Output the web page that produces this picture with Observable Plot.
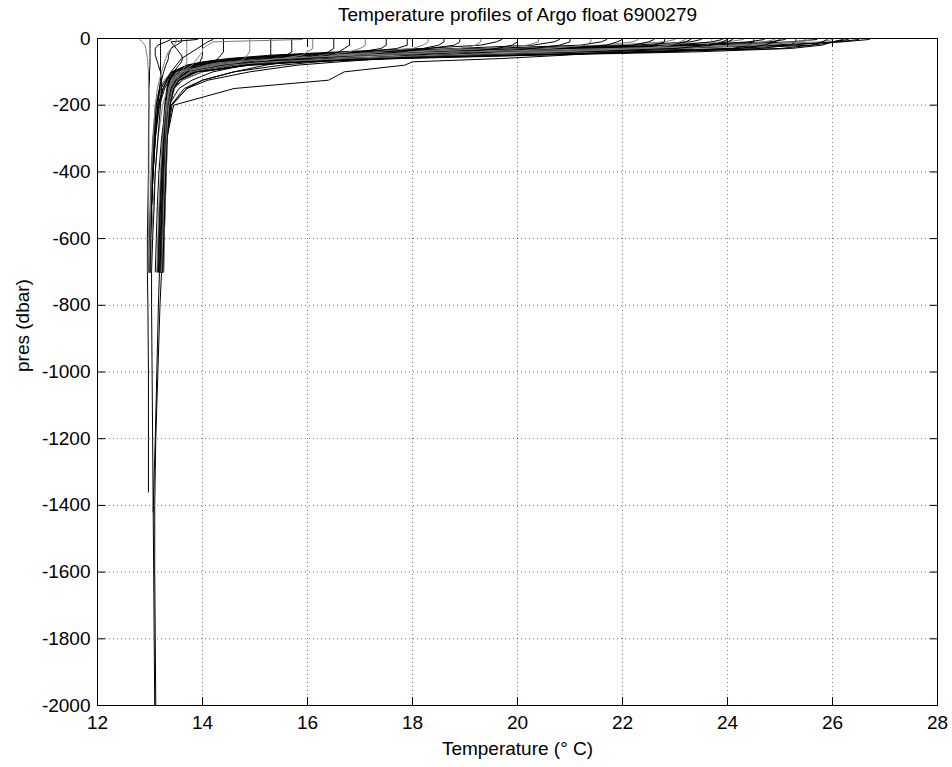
<!DOCTYPE html>
<html><head><meta charset="utf-8">
<script src="https://cdn.jsdelivr.net/npm/d3@7"></script>
<script src="https://cdn.jsdelivr.net/npm/@observablehq/plot@0.6"></script>
<style>body{margin:0;background:#fff;} svg{display:block;}</style>
</head><body><div id="chart"></div>
<script>
// Pressure levels (dbar) shared by the upper part of each profile
const levels = [3, 10, 20, 30, 40, 50, 60, 70, 80, 100, 125, 150, 200, 300, 400, 500, 600, 700];

// Temperature (deg C) of each profile at the levels above
const upperTemps = [
  [26.7, 26.2, 24.8, 22.0, 19.2, 17.0, 15.6, 14.7, 14.2, 13.65, 13.48, 13.42, 13.36, 13.31, 13.29, 13.27, 13.25, 13.23],
  [26.3, 26.0, 25.2, 22.8, 19.8, 17.4, 15.8, 14.9, 14.3, 13.7, 13.5, 13.43, 13.37, 13.3, 13.26, 13.23, 13.2, 13.18],
  [26.0, 25.8, 24.0, 20.9, 18.2, 16.3, 15.1, 14.4, 13.95, 13.56, 13.44, 13.38, 13.33, 13.28, 13.25, 13.22, 13.2, 13.18],
  [25.9, 25.8, 25.6, 25.0, 22.6, 19.4, 17.0, 15.5, 14.6, 13.8, 13.53, 13.45, 13.38, 13.33, 13.31, 13.29, 13.27, 13.26],
  [25.7, 25.2, 23.6, 20.5, 17.9, 16.1, 15.0, 14.3, 13.9, 13.5, 13.36, 13.28, 13.18, 13.1, 13.06, 13.03, 13.01, 13.0],
  [25.5, 25.3, 24.7, 22.6, 19.6, 17.3, 15.8, 14.9, 14.3, 13.7, 13.5, 13.42, 13.36, 13.3, 13.27, 13.24, 13.22, 13.2],
  [25.3, 25.3, 25.2, 24.6, 22.0, 19.0, 16.8, 15.4, 14.6, 13.82, 13.55, 13.46, 13.38, 13.32, 13.3, 13.28, 13.26, 13.25],
  [25.1, 24.8, 23.0, 19.8, 17.4, 15.8, 14.8, 14.2, 13.85, 13.52, 13.42, 13.37, 13.32, 13.27, 13.23, 13.2, 13.17, 13.15],
  [24.9, 24.7, 24.2, 22.2, 19.4, 17.2, 15.7, 14.8, 14.25, 13.68, 13.49, 13.41, 13.35, 13.3, 13.27, 13.25, 13.23, 13.21],
  [24.7, 24.4, 23.4, 21.0, 18.4, 16.5, 15.2, 14.5, 14.05, 13.6, 13.45, 13.38, 13.3, 13.22, 13.17, 13.14, 13.12, 13.1],
  [24.5, 24.5, 24.4, 24.1, 22.6, 19.8, 17.4, 15.8, 14.8, 13.85, 13.52, 13.44, 13.37, 13.32, 13.3, 13.28, 13.26, 13.24],
  [24.3, 24.0, 22.4, 19.6, 17.3, 15.7, 14.7, 14.1, 13.75, 13.42, 13.3, 13.22, 13.14, 13.08, 13.05, 13.02, 13.0, 12.99],
  [24.1, 24.0, 23.6, 21.8, 19.2, 17.0, 15.6, 14.7, 14.2, 13.65, 13.47, 13.4, 13.34, 13.29, 13.26, 13.24, 13.22, 13.2],
  [23.9, 23.7, 23.0, 20.8, 18.3, 16.4, 15.2, 14.5, 14.0, 13.57, 13.43, 13.37, 13.32, 13.28, 13.25, 13.22, 13.19, 13.17],
  [23.7, 23.7, 23.6, 23.3, 21.6, 18.8, 16.8, 15.4, 14.6, 13.8, 13.54, 13.45, 13.37, 13.33, 13.31, 13.29, 13.27, 13.26],
  [23.5, 23.3, 22.2, 19.6, 17.2, 15.6, 14.7, 14.1, 13.78, 13.46, 13.37, 13.33, 13.29, 13.25, 13.22, 13.19, 13.16, 13.14],
  [23.3, 23.2, 22.9, 21.4, 19.0, 16.9, 15.5, 14.7, 14.2, 13.64, 13.46, 13.39, 13.33, 13.29, 13.27, 13.25, 13.23, 13.21],
  [23.0, 22.8, 21.8, 19.4, 17.2, 15.7, 14.8, 14.2, 13.8, 13.42, 13.27, 13.18, 13.1, 13.05, 13.02, 13.0, 12.99, 12.98],
  [22.8, 22.8, 22.6, 22.3, 21.9, 20.9, 19.7, 18.0, 17.85, 16.7, 16.4, 14.6, 13.45, 13.32, 13.29, 13.27, 13.25, 13.23],
  [22.6, 22.5, 22.2, 20.6, 18.2, 16.3, 15.1, 14.4, 13.95, 13.55, 13.43, 13.37, 13.32, 13.28, 13.26, 13.24, 13.22, 13.2],
  [22.3, 22.2, 21.6, 19.6, 17.5, 15.9, 14.9, 14.3, 13.9, 13.5, 13.4, 13.35, 13.3, 13.26, 13.23, 13.2, 13.18, 13.16],
  [22.0, 21.9, 21.7, 20.8, 18.8, 16.8, 15.4, 14.6, 14.1, 13.6, 13.45, 13.39, 13.34, 13.3, 13.28, 13.26, 13.24, 13.22],
  [21.7, 21.6, 21.2, 19.4, 17.3, 15.8, 14.8, 14.2, 13.8, 13.45, 13.33, 13.25, 13.16, 13.09, 13.05, 13.03, 13.01, 13.0],
  [21.4, 21.4, 21.3, 20.6, 18.8, 16.9, 15.5, 14.7, 14.15, 13.62, 13.46, 13.4, 13.34, 13.3, 13.28, 13.26, 13.24, 13.23],
  [21.0, 21.0, 20.8, 20.3, 19.5, 18.6, 17.5, 16.6, 15.8, 14.9, 14.1, 13.7, 13.4, 13.3, 13.28, 13.26, 13.24, 13.22],
  [20.8, 20.7, 20.3, 18.8, 16.9, 15.5, 14.6, 14.05, 13.72, 13.44, 13.36, 13.32, 13.28, 13.24, 13.21, 13.18, 13.16, 13.14],
  [20.4, 20.4, 20.2, 19.5, 18.0, 16.4, 15.2, 14.5, 14.0, 13.56, 13.43, 13.38, 13.33, 13.29, 13.27, 13.25, 13.23, 13.21],
  [20.0, 20.0, 19.9, 19.6, 19.0, 18.0, 17.0, 16.2, 15.5, 14.6, 14.0, 13.65, 13.4, 13.31, 13.28, 13.26, 13.24, 13.22],
  [19.7, 19.6, 19.3, 18.2, 16.6, 15.3, 14.5, 14.0, 13.7, 13.42, 13.32, 13.25, 13.16, 13.1, 13.06, 13.03, 13.01, 13.0],
  [19.3, 19.3, 19.2, 18.9, 17.9, 16.6, 15.4, 14.7, 14.2, 13.62, 13.46, 13.4, 13.34, 13.3, 13.28, 13.26, 13.24, 13.22],
  [18.9, 18.9, 18.8, 18.3, 17.0, 15.7, 14.8, 14.2, 13.85, 13.5, 13.38, 13.34, 13.3, 13.26, 13.23, 13.2, 13.18, 13.16],
  [18.6, 18.6, 18.5, 18.2, 17.8, 17.0, 16.0, 15.3, 14.8, 14.2, 13.8, 13.55, 13.36, 13.29, 13.27, 13.25, 13.23, 13.21],
  [18.3, 18.3, 18.2, 18.0, 17.2, 16.1, 15.1, 14.4, 13.95, 13.52, 13.4, 13.35, 13.31, 13.28, 13.26, 13.24, 13.22, 13.2],
  [17.9, 17.9, 17.9, 17.7, 17.1, 16.0, 15.0, 14.3, 13.9, 13.48, 13.33, 13.25, 13.16, 13.09, 13.05, 13.03, 13.01, 13.0],
  [17.5, 17.5, 17.5, 17.4, 17.0, 16.2, 15.3, 14.6, 14.1, 13.6, 13.45, 13.39, 13.33, 13.29, 13.27, 13.25, 13.23, 13.21],
  [17.1, 17.1, 17.1, 17.0, 16.8, 16.3, 15.6, 14.9, 14.4, 13.7, 13.5, 13.42, 13.35, 13.31, 13.28, 13.26, 13.24, 13.22],
  [16.8, 16.8, 16.8, 16.7, 16.6, 16.4, 16.0, 15.6, 15.2, 14.6, 14.0, 13.7, 13.42, 13.32, 13.29, 13.27, 13.25, 13.23],
  [16.5, 16.5, 16.5, 16.5, 16.4, 16.2, 15.8, 15.1, 14.5, 13.75, 13.5, 13.42, 13.35, 13.31, 13.28, 13.25, 13.22, 13.2],
  [16.1, 16.1, 16.1, 16.1, 16.0, 15.9, 15.5, 14.9, 14.3, 13.62, 13.42, 13.34, 13.24, 13.15, 13.1, 13.06, 13.03, 13.01],
  [15.7, 15.7, 15.7, 15.7, 15.7, 15.6, 15.5, 15.2, 14.8, 14.0, 13.6, 13.46, 13.37, 13.32, 13.29, 13.27, 13.25, 13.23],
  [15.3, 15.3, 15.3, 15.3, 15.3, 15.3, 15.2, 14.9, 14.5, 13.85, 13.55, 13.43, 13.35, 13.3, 13.27, 13.24, 13.21, 13.19],
  [14.9, 14.9, 14.9, 14.9, 14.9, 14.85, 14.8, 14.7, 14.5, 14.0, 13.62, 13.47, 13.37, 13.32, 13.29, 13.27, 13.25, 13.23],
  [14.4, 14.4, 14.4, 14.4, 14.4, 14.35, 14.3, 14.2, 14.0, 13.6, 13.45, 13.38, 13.32, 13.29, 13.27, 13.25, 13.23, 13.21],
  [14.0, 14.0, 14.0, 14.0, 14.0, 14.0, 13.98, 13.95, 13.9, 13.7, 13.5, 13.4, 13.33, 13.29, 13.27, 13.25, 13.23, 13.21],
  [13.7, 13.7, 13.7, 13.7, 13.7, 13.7, 13.7, 13.7, 13.68, 13.6, 13.5, 13.42, 13.34, 13.3, 13.27, 13.25, 13.23, 13.2],
  [13.2, 13.2, 13.2, 13.2, 13.2, 13.2, 13.2, 13.2, 13.2, 13.2, 13.2, 13.18, 13.15, 13.1, 13.06, 13.03, 13.0, 12.98],
  [13.0, 13.0, 13.0, 13.0, 13.0, 13.0, 13.0, 13.0, 13.0, 12.99, 12.99, 12.98, 12.98, 12.97, 12.97, 12.96, 12.95, 12.95],
  [12.8, 12.85, 12.9, 12.92, 12.93, 12.94, 12.95, 12.96, 12.96, 12.97, 12.97, 12.97, 12.98, 12.98, 12.98, 12.97, 12.97, 12.96],
  [13.4, 13.3, 13.15, 13.1, 13.1, 13.1, 13.12, 13.14, 13.16, 13.2, 13.22, 13.22, 13.2, 13.15, 13.1, 13.08, 13.05, 13.03],
  [13.6, 13.6, 13.5, 13.4, 13.38, 13.35, 13.35, 13.33, 13.3, 13.26, 13.22, 13.18, 13.12, 13.08, 13.05, 13.03, 13.01, 13.0],
  [15.9, 14.2, 14.1, 14.0, 14.0, 13.95, 13.9, 13.85, 13.8, 13.6, 13.45, 13.38, 13.32, 13.28, 13.26, 13.24, 13.22, 13.2],
  [13.9, 13.4, 13.45, 13.5, 13.55, 13.6, 13.62, 13.6, 13.55, 13.45, 13.38, 13.33, 13.3, 13.27, 13.25, 13.23, 13.21, 13.19],
  [14.2, 14.1, 14.0, 13.9, 13.8, 13.7, 13.6, 13.55, 13.5, 13.4, 13.3, 13.2, 13.12, 13.06, 13.03, 13.01, 12.99, 12.98],
  [13.5, 13.5, 13.45, 13.4, 13.35, 13.32, 13.3, 13.28, 13.26, 13.22, 13.18, 13.14, 13.1, 13.06, 13.03, 13.01, 13.0, 12.98],
  [26.5, 26.1, 25.6, 24.0, 21.2, 18.6, 16.6, 15.3, 14.5, 13.75, 13.5, 13.43, 13.37, 13.31, 13.28, 13.26, 13.24, 13.22],
  [26.2, 26.0, 25.8, 25.2, 23.4, 20.4, 17.8, 16.0, 14.9, 13.9, 13.56, 13.45, 13.38, 13.32, 13.29, 13.27, 13.25, 13.23],
  [25.6, 25.4, 24.4, 21.8, 19.0, 16.9, 15.5, 14.6, 14.1, 13.6, 13.45, 13.38, 13.3, 13.24, 13.2, 13.17, 13.15, 13.13],
  [25.0, 24.9, 24.7, 24.2, 22.8, 20.2, 17.6, 15.9, 14.9, 13.9, 13.55, 13.45, 13.37, 13.32, 13.3, 13.28, 13.26, 13.24],
  [24.0, 23.9, 23.7, 23.0, 21.0, 18.4, 16.4, 15.1, 14.4, 13.72, 13.5, 13.42, 13.35, 13.3, 13.27, 13.25, 13.23, 13.21],
  [23.2, 23.1, 22.9, 22.4, 20.8, 18.5, 16.6, 15.3, 14.5, 13.76, 13.52, 13.43, 13.36, 13.31, 13.28, 13.26, 13.24, 13.22]
];

// Profiles that continue below 700 dbar: which profile, pressures and temperatures
const deepOf = [1, 46, 21, 48];
const deepPres = [
  [800, 1000, 1200, 1420],
  [800, 1000, 1200, 1360],
  [800, 1000, 1200, 1400, 1600, 1800, 2000],
  [800, 1000, 1200, 1400, 1600, 1800, 2000]
];
const deepTemps = [
  [13.16, 13.13, 13.1, 13.06],
  [12.96, 12.97, 12.97, 12.97],
  [13.19, 13.15, 13.11, 13.09, 13.09, 13.1, 13.11],
  [13.03, 13.04, 13.05, 13.06, 13.07, 13.08, 13.09]
];

const xTicks = [12, 14, 16, 18, 20, 22, 24, 26, 28];
const yTicks = [0, -200, -400, -600, -800, -1000, -1200, -1400, -1600, -1800, -2000];

const rows = [];
upperTemps.forEach((temps, i) => {
  temps.forEach((t, j) => rows.push({profile: i, temp: t, pres: -levels[j]}));
  const k = deepOf.indexOf(i);
  if (k >= 0) deepTemps[k].forEach((t, j) => rows.push({profile: i, temp: t, pres: -deepPres[k][j]}));
});

const fmt = d => String(d);
const chart = Plot.plot({
  width: 952, height: 767,
  marginLeft: 97, marginRight: 15, marginTop: 38, marginBottom: 62,
  style: {fontFamily: "'Liberation Sans', Arial, sans-serif", fontSize: "19px", background: "white", color: "black"},
  x: {domain: [12, 28], label: null},
  y: {domain: [-2000, 0], label: null},
  marks: [
    Plot.gridX(xTicks, {stroke: "#000", strokeOpacity: 0.55, strokeDasharray: "1,3"}),
    Plot.gridY(yTicks, {stroke: "#000", strokeOpacity: 0.55, strokeDasharray: "1,3"}),
    Plot.line(rows, {x: "temp", y: "pres", z: "profile",
      stroke: d => (d.profile % 3 === 2 ? "#7a7a7a" : "#000"), strokeWidth: 1}),
    Plot.frame({stroke: "#000", strokeWidth: 1}),
    Plot.axisX(xTicks, {anchor: "bottom", tickSize: -8, tickPadding: 18, tickFormat: fmt, label: null, fontSize: 19}),
    Plot.axisX(xTicks, {anchor: "top", tickSize: -8, tickFormat: () => "", label: null}),
    Plot.axisY(yTicks, {anchor: "left", tickSize: -8, tickPadding: 15, tickFormat: fmt, label: null, fontSize: 19}),
    Plot.axisY(yTicks, {anchor: "right", tickSize: -8, tickFormat: () => "", label: null}),
    Plot.text(["Temperature profiles of Argo float 6900279"], {frameAnchor: "top", dy: -24, lineAnchor: "middle", fontSize: 19}),
    Plot.text(["Temperature (° C)"], {frameAnchor: "bottom", dy: 43, lineAnchor: "middle", fontSize: 19}),
    Plot.text(["pres (dbar)"], {frameAnchor: "left", dx: -75, rotate: -90, lineAnchor: "middle", fontSize: 19})
  ]
});
document.getElementById("chart").appendChild(chart);
</script>
</body></html>
